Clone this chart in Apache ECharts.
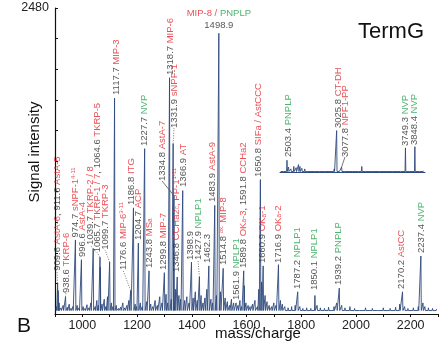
<!DOCTYPE html>
<html>
<head>
<meta charset="utf-8">
<script src="https://cdn.jsdelivr.net/npm/echarts@6/dist/echarts.min.js"></script>
<style>
  html, body { margin: 0; padding: 0; background: #fff; }
  #chart { width: 446px; height: 349px; }
</style>
</head>
<body>
<div id="chart"></div>
<script>
// 主谱图: 标注峰 (m/z, 强度)
const peakMz = [909.6, 911.6, 938.6, 974.7, 996.6, 1039.7, 1064.6, 1065.7, 1099.7, 1117.7,
  1176.6, 1186.8, 1204.7, 1227.7, 1243.8, 1299.8, 1318.7, 1331.9, 1334.8, 1346.8,
  1366.9, 1398.9, 1427.9, 1462.3, 1483.9, 1498.9, 1514.8, 1561.9, 1589.8, 1591.8,
  1650.8, 1660.9, 1716.9, 1787.2, 1850.1, 1939.2, 2170.2, 2237.4]
const peakInt = [250, 190, 140, 600, 440, 530, 460, 380, 420, 1750,
  190, 860, 575, 1340, 350, 335, 1915, 1380, 960, 300,
  1000, 420, 300, 390, 880, 2275, 370, 90, 350, 230,
  1090, 390, 400, 180, 150, 210, 180, 470]

// 小峰 / 噪声
const minorMz = [905, 915, 922, 930, 945, 952, 958, 965, 981, 988, 1003, 1010, 1017, 1024, 1031,
  1047, 1053, 1058, 1072, 1080, 1086, 1092, 1106, 1112, 1124, 1132, 1140, 1148, 1155, 1163,
  1170, 1193, 1198, 1212, 1219, 1235, 1250, 1258, 1266, 1274, 1283, 1291, 1306, 1312, 1325,
  1340, 1353, 1359, 1374, 1382, 1390, 1405, 1413, 1420, 1434, 1441, 1448, 1455, 1470, 1476,
  1490, 1505, 1522, 1530, 1538, 1545, 1553, 1569, 1576, 1582, 1598, 1606, 1613, 1622, 1631,
  1640, 1645, 1655, 1668, 1675, 1683, 1692, 1700, 1708, 1724, 1731, 1740, 1752, 1765, 1778,
  1795, 1806, 1820, 1835, 1858, 1870, 1885, 1900, 1920, 1930, 1948, 1960, 1978, 1995, 2015,
  2035, 2060, 2080, 2100, 2125, 2145, 2160, 2178, 2190, 2210, 2228, 2245, 2252, 2265, 2280, 2295]
const minorInt = [60, 90, 50, 70, 55, 80, 45, 60, 70, 50, 60, 45, 75, 50, 90,
  60, 110, 70, 80, 120, 60, 140, 90, 60, 70, 45, 55, 90, 50, 70,
  110, 80, 60, 90, 60, 100, 80, 60, 110, 70, 140, 90, 160, 90, 120,
  200, 150, 120, 110, 140, 90, 130, 180, 110, 150, 90, 130, 200, 120, 90,
  150, 180, 130, 100, 70, 120, 90, 70, 110, 60, 90, 70, 60, 80, 110,
  60, 200, 260, 150, 100, 70, 60, 90, 70, 110, 80, 60, 50, 60, 70,
  60, 45, 50, 45, 70, 50, 45, 55, 60, 90, 70, 50, 60, 45, 40,
  50, 45, 40, 50, 45, 55, 80, 60, 45, 50, 60, 90, 60, 50, 45, 40]

// 插图 (高质量区)
const insetMz = [2503.4, 3025.8, 3077.8, 3749.3, 3848.4]
const insetInt = [95, 335, 40, 195, 205]
const insetMinorMz = [2440, 2470, 2520, 2545, 2575, 2600, 2625, 2640, 2660, 2690, 2720, 2760, 2800, 2850,
  2900, 2950, 3000, 3050, 3110, 3160, 3200, 3260, 3290, 3330, 3400, 3480, 3550, 3620, 3700, 3800, 3900, 3940]
const insetMinorInt = [15, 20, 40, 25, 45, 35, 60, 45, 30, 25, 20, 20, 15, 20,
  15, 20, 25, 20, 15, 20, 15, 20, 45, 15, 15, 15, 10, 15, 15, 10, 15, 10]

const xTicks = [1000, 1200, 1400, 1600, 1800, 2000, 2200]

// 标签: 峰, 标签列(m/z), 标签底部(强度), 引线
const labels = [
  { mz: 909.6, col: 907.3, base: 350, lead: 'dotted', text: '909.6 {r|AstA-6}, 911.6 {r|AstA-5}' },
  { mz: 938.6, col: 940.2, base: 170, lead: 'dotted', text: '938.6 {r|TKRP-6}' },
  { mz: 974.7, col: 973.1, base: 620, text: '974.7 {r|sNPF-1}{rs|4-11}' },
  { mz: 996.6, col: 998.7, base: 462, text: '996.6 {r|AstA-4}' },
  { mz: 1039.7, col: 1027.9, base: 560, lead: 'dotted', text: '1039.7 {r|TKRP-2 / 8}' },
  { mz: 1064.6, col: 1053.5, base: 500, lead: 'dotted', text: '1065.7 {r|TKRP-1 / 7}, 1064.6 {r|TKRP-5}' },
  { mz: 1099.7, col: 1082.7, base: 520, lead: 'dotted', text: '1099.7 {r|TKRP-3}' },
  { mz: 1117.7, col: 1123, base: 1775, text: '1117.7 {r|MIP-3}' },
  { mz: 1176.6, col: 1148.5, base: 356, lead: 'dotted', text: '1176.6 {r|MIP-6}{rs|3-11}' },
  { mz: 1186.8, col: 1177.8, base: 883, text: '1186.8 {r|ITG}' },
  { mz: 1204.7, col: 1203.4, base: 600, text: '1204.7 {r|ACP}' },
  { mz: 1227.7, col: 1225.3, base: 1362, text: '1227.7 {g|NVP}' },
  { mz: 1243.8, col: 1243.6, base: 373, text: '1243.8 {r|MS}{rb|a}' },
  { mz: 1299.8, col: 1294.7, base: 357, text: '1299.8 {r|MIP-7}' },
  { mz: 1318.7, col: 1320.3, base: 1937, text: '1318.7 {r|MIP-6}' },
  { mz: 1331.9, col: 1334.9, base: 1508, lead: 'dotted', text: '1331.9 {r|sNPF-1}' },
  { mz: 1334.8, col: 1291.1, base: 1078, lead: 'solid', text: '1334.8 {r|AstA-7}' },
  { mz: 1346.8, col: 1342.3, base: 340, text: '1346.8 {r|CCHa2}{rb|c}{r|, PP-1}{rs|1-11}' },
  { mz: 1366.9, col: 1367.8, base: 1030, text: '1366.9 {r|AT}' },
  { mz: 1398.9, col: 1393.4, base: 437, text: '1398.9' },
  { mz: 1427.9, col: 1422.7, base: 437, lead: 'dotted', text: '1427.9 {g|NPLP1}' },
  { mz: 1462.3, col: 1455.6, base: 413, text: '1462.3' },
  { mz: 1483.9, col: 1473.8, base: 907, text: '1483.9 {r|AstA-9}' },
  { mz: 1514.8, col: 1514, base: 397, text: '1514.8 {rs|ox.} {r|MIP-8}' },
  { mz: 1561.9, col: 1561.5, base: 113, text: '1561.9 {g|NPLP1}' },
  { mz: 1589.8, col: 1587.1, base: 373, text: '1589.8 {r|OK}{rb|a}{r|-3}, 1591.8 {r|CCHa2}' },
  { mz: 1650.8, col: 1641.9, base: 1110, text: '1650.8 {r|SIFa / AstCCC}' },
  { mz: 1660.9, col: 1658.4, base: 413, text: '1660.9 {r|OK}{rb|a}{r|-1}' },
  { mz: 1716.9, col: 1715, base: 413, text: '1716.9 {r|OK}{rb|a}{r|-2}' },
  { mz: 1787.2, col: 1786.3, base: 203, text: '1787.2 {g|NPLP1}' },
  { mz: 1850.1, col: 1848.5, base: 194, text: '1850.1 {g|NPLP1}' },
  { mz: 1939.2, col: 1934.4, base: 235, text: '1939.2 {g|PNPLP}' },
  { mz: 2170.2, col: 2164.6, base: 203, text: '2170.2 {r|AstCC}' },
  { mz: 2237.4, col: 2237.7, base: 494, text: '2237.4 {g|NVP}' }
]
const insetLabels = [
  { mz: 2503.4, col: 2514, base: 121, text: '2503.4 {g|PNPLP}' },
  { mz: 3025.8, col: 3039, base: 356, text: '3025.8 {r|CT-DH}' },
  { mz: 3077.8, col: 3113, base: 121, lead: 'solid', text: '3077.8 {r|NPF1-PP}' },
  { mz: 3749.3, col: 3753, base: 210, text: '3749.3 {g|NVP}' },
  { mz: 3848.4, col: 3848, base: 218, text: '3848.4 {g|NVP}' }
]

const navy = '#2f4a7d'
const font = 'Liberation Sans'
const fs = 9.5

// 峰 -> 折线 (竖线)
function sticks(mz, inten, mz2, inten2, base, w) {
  const all = []
  mz.forEach((m, i) => all.push([m, inten[i]]))
  mz2.forEach((m, i) => all.push([m, inten2[i]]))
  all.sort((a, b) => a[0] - b[0])
  const out = []
  all.forEach(p => {
    out.push([p[0] - w, base])
    out.push([p[0], p[1]])
    out.push([p[0] + w, base])
  })
  return out
}

const rich = {
  r: { color: '#e3262d', fontSize: fs, fontFamily: font },
  g: { color: '#22a14c', fontSize: fs, fontFamily: font },
  rs: { color: '#e3262d', fontSize: 6, fontFamily: font, verticalAlign: 'top' },
  rb: { color: '#e3262d', fontSize: 6.5, fontFamily: font, verticalAlign: 'bottom' }
}

function labelSeries(list, axisIdx) {
  return {
    type: 'scatter',
    xAxisIndex: axisIdx,
    yAxisIndex: axisIdx,
    symbolSize: 0,
    silent: true,
    z: 5,
    data: list.map(l => ({ value: [l.col, l.base], label: { formatter: l.text } })),
    label: {
      show: true,
      position: 'inside',
      rotate: 90,
      align: 'left',
      verticalAlign: 'middle',
      color: '#2a2a2a',
      fontSize: fs,
      fontFamily: font,
      rich: rich
    }
  }
}

function leaderSeries(list, axisIdx) {
  return list.filter(l => l.lead).map(l => {
    const h = axisIdx === 0 ? peakInt[peakMz.indexOf(l.mz)] : insetInt[insetMz.indexOf(l.mz)]
    return {
      type: 'line',
      xAxisIndex: axisIdx,
      yAxisIndex: axisIdx,
      showSymbol: false,
      silent: true,
      z: 4,
      lineStyle: { color: '#555', width: 0.8, type: l.lead === 'dotted' ? [1, 1.5] : 'solid' },
      data: [[l.mz, h], [l.col, l.base]]
    }
  })
}

const myChart = echarts.init(document.getElementById('chart'), null, { renderer: 'canvas' })

const options = {
  animation: false,
  backgroundColor: '#fff',
  grid: [
    { left: 55, right: 8, top: 8, bottom: 35 },
    { left: 280, right: 21, top: 100, bottom: 177 }
  ],
  xAxis: [
    {
      type: 'value',
      min: 900,
      max: 2300,
      interval: 100,
      axisLine: { lineStyle: { color: '#111', width: 1.2 } },
      axisTick: { show: true, length: 3, lineStyle: { color: '#111' } },
      axisLabel: {
        color: '#222',
        fontSize: 12.5,
        fontFamily: font,
        margin: 5,
        formatter: v => (xTicks.indexOf(v) >= 0 ? String(v) : '')
      },
      splitLine: { show: false }
    },
    {
      type: 'value',
      gridIndex: 1,
      min: 2430,
      max: 3955,
      axisLine: { lineStyle: { color: navy, width: 1 } },
      axisTick: { show: false },
      axisLabel: { show: false },
      splitLine: { show: false }
    }
  ],
  yAxis: [
    {
      type: 'value',
      min: 0,
      max: 2480,
      interval: 248,
      axisLine: { show: true, lineStyle: { color: '#111', width: 1.2 } },
      axisTick: { show: true, inside: true, length: 3, lineStyle: { color: '#111' } },
      axisLabel: {
        color: '#222',
        fontSize: 12.5,
        fontFamily: font,
        margin: 6,
        showMaxLabel: true,
        formatter: v => (v === 2480 ? '2480' : '')
      },
      splitLine: { show: false }
    },
    {
      type: 'value',
      gridIndex: 1,
      min: 0,
      max: 583,
      show: false,
      splitLine: { show: false }
    }
  ],
  graphic: [
    { type: 'text', x: 391, y: 32, style: { text: 'TermG', font: '22px ' + font, fill: '#111', textAlign: 'center', textVerticalAlign: 'middle' } },
    { type: 'text', x: 24, y: 326, style: { text: 'B', font: '21px ' + font, fill: '#111', textAlign: 'center', textVerticalAlign: 'middle' } },
    { type: 'text', x: 258, y: 334, style: { text: 'mass/charge', font: '15px ' + font, fill: '#111', textAlign: 'center', textVerticalAlign: 'middle' } },
    { type: 'text', x: 35, y: 152, rotation: Math.PI / 2, style: { text: 'Signal intensity', font: '15px ' + font, fill: '#111', textAlign: 'center', textVerticalAlign: 'middle' } }
  ],
  series: [
    {
      type: 'line',
      xAxisIndex: 0,
      yAxisIndex: 0,
      showSymbol: false,
      silent: true,
      z: 2,
      lineStyle: { color: navy, width: 0.9 },
      data: sticks(peakMz, peakInt, minorMz, minorInt, 28, 1.6)
    },
    {
      type: 'line',
      xAxisIndex: 1,
      yAxisIndex: 1,
      showSymbol: false,
      silent: true,
      z: 2,
      lineStyle: { color: navy, width: 0.9 },
      data: sticks(insetMz, insetInt, insetMinorMz, insetMinorInt, 4, 4)
    },
    labelSeries(labels, 0),
    labelSeries(insetLabels, 1),
    {
      type: 'scatter',
      xAxisIndex: 0,
      yAxisIndex: 0,
      symbolSize: 0,
      silent: true,
      z: 5,
      data: [[1498.9, 2275]],
      label: {
        show: true,
        position: 'top',
        distance: 2,
        align: 'center',
        color: '#2a2a2a',
        fontSize: fs,
        fontFamily: font,
        lineHeight: 12,
        formatter: '{r|MIP-8 /} {g|PNPLP}\n1498.9',
        rich: rich
      }
    }
  ].concat(leaderSeries(labels, 0), leaderSeries(insetLabels, 1))
}

myChart.setOption(options)
</script>
</body>
</html>
